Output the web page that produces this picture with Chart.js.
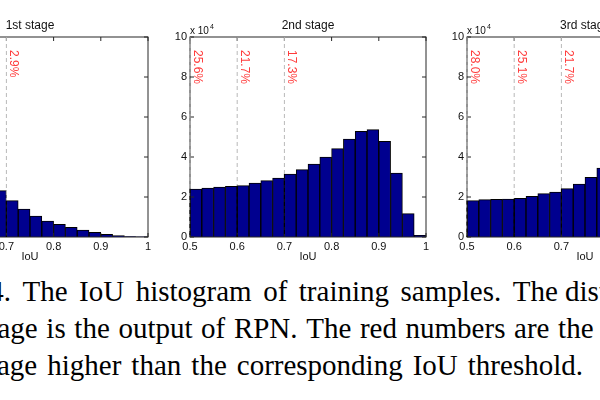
<!DOCTYPE html>
<html><head><meta charset="utf-8">
<script src="https://cdn.jsdelivr.net/npm/chart.js@4.4.1/dist/chart.umd.min.js"></script>
<style>
html,body{margin:0;padding:0;background:#fff;}
#wrap{position:absolute;left:0;top:0;width:600px;height:400px;overflow:hidden;background:#fff;}
#wrap canvas{position:absolute;top:0;}
.cap{position:absolute;left:0;white-space:pre;font-family:"Liberation Serif","Times New Roman",serif;font-size:29px;line-height:37px;color:#000;font-kerning:none;}
</style></head><body>
<div id="wrap">
<canvas id="c1" width="300" height="270"></canvas>
<canvas id="c2" width="300" height="270"></canvas>
<canvas id="c3" width="300" height="270"></canvas>
<div class="cap" id="l1"></div>
<div class="cap" id="l2"></div>
<div class="cap" id="l3"></div>
</div>
<script>
// ---- data ----
const binCenters = [0.5125,0.5375,0.5625,0.5875,0.6125,0.6375,0.6625,0.6875,0.7125,0.7375,
                    0.7625,0.7875,0.8125,0.8375,0.8625,0.8875,0.9125,0.9375,0.9625,0.9875];
const stage1Counts = [7.2,6.3,5.4,4.5,3.5,3.0,2.65,2.32,1.82,1.40,1.05,0.80,0.63,0.48,0.35,0.23,0.13,0.07,0.02,0.01];
const stage2Counts = [2.40,2.45,2.50,2.53,2.57,2.70,2.82,2.95,3.15,3.37,3.65,4.00,4.42,4.90,5.28,5.37,4.78,3.20,1.17,0.08];
const stage3Counts = [1.82,1.87,1.88,1.90,1.93,2.03,2.17,2.25,2.42,2.65,2.98,3.45,4.0,4.6,5.3,6.0,6.6,7.0,6.5,3.0];
const stageTitles = ['1st stage','2nd stage','3rd stage'];
const thresholds = [0.5,0.6,0.7];
const stage1Pct = ['16.7%','7.4%','2.9%'];
const stage2Pct = ['25.6%','21.7%','17.3%'];
const stage3Pct = ['28.0%','25.1%','21.7%'];
const xTicks = [0.5,0.6,0.7,0.8,0.9,1];
const xTickLabels = ['0.5','0.6','0.7','0.8','0.9','1'];
const yTicks = [0,2,4,6,8,10];
const yTickLabels = ['0','2','4','6','8','10'];
const xAxisTitle = 'IoU';
const yScaleBase = 'x 10';
const yScaleExp = '4';
const captionLines = [
  {prefix:'Figure 4. ', body:'The IoU histogram of training samples. ', tail:'The distribution at the 1st'},
  {prefix:'', body:'age is the output of RPN. The red numbers are the', tail:''},
  {prefix:'', body:'age higher than the corresponding IoU threshold.', tail:''}
];

// ---- layout ----
const plotLefts = [-88, 190, 467.3];
const AXW = 40, PLOTW = 236, CW = 300;
const FONT = '"Liberation Sans", Arial, sans-serif';

const decor = {
  id: 'decor',
  afterDatasetsDraw(chart, args, opts) {
    const {ctx, chartArea: a, scales: {x, y}} = chart;
    ctx.save();
    ctx.setLineDash([]);
    ctx.strokeStyle = '#262626';
    ctx.lineWidth = 1;
    ctx.strokeRect(a.left, a.top, a.right - a.left, a.bottom - a.top);
    ctx.beginPath();
    yTicks.forEach(v => {
      const py = y.getPixelForValue(v);
      ctx.moveTo(a.left, py); ctx.lineTo(a.left + 4, py);
      ctx.moveTo(a.right, py); ctx.lineTo(a.right - 4, py);
    });
    xTicks.forEach(v => {
      const px = x.getPixelForValue(v);
      ctx.moveTo(px, a.top); ctx.lineTo(px, a.top + 4);
      ctx.moveTo(px, a.bottom); ctx.lineTo(px, a.bottom - 4);
    });
    ctx.stroke();
    thresholds.forEach((t, k) => {
      const px = x.getPixelForValue(t);
      const idx = binCenters.findIndex(c => c > t);
      const barTop = y.getPixelForValue(opts.counts[idx]);
      ctx.setLineDash([4, 3]);
      ctx.lineWidth = 1;
      ctx.strokeStyle = '#b9b9b9';
      ctx.beginPath(); ctx.moveTo(px, a.top); ctx.lineTo(px, barTop); ctx.stroke();
      ctx.strokeStyle = '#000';
      ctx.beginPath(); ctx.moveTo(px, barTop); ctx.lineTo(px, a.bottom); ctx.stroke();
      ctx.save();
      ctx.translate(px + 3.5, a.top + 13);
      ctx.rotate(Math.PI / 2);
      ctx.fillStyle = '#ff3b3b';
      ctx.font = '12px ' + FONT;
      ctx.textAlign = 'left';
      ctx.textBaseline = 'alphabetic';
      ctx.fillText(opts.pcts[k], 0, 0);
      ctx.restore();
    });
    ctx.setLineDash([]);
    ctx.fillStyle = '#111';
    ctx.textAlign = 'left';
    ctx.textBaseline = 'alphabetic';
    ctx.font = '10px ' + FONT;
    ctx.fillText(yScaleBase, a.left, a.top - 3);
    const w = ctx.measureText(yScaleBase).width;
    ctx.font = '7px ' + FONT;
    ctx.fillText(yScaleExp, a.left + w + 1, a.top - 8.5);
    ctx.restore();
  }
};

function makeChart(id, i, counts, pcts) {
  const cv = document.getElementById(id);
  cv.style.left = (plotLefts[i] - AXW) + 'px';
  return new Chart(cv, {
    type: 'bar',
    data: {
      datasets: [{
        data: binCenters.map((c, j) => ({x: c, y: counts[j]})),
        backgroundColor: '#00008f',
        borderColor: '#000',
        borderWidth: 1,
        barPercentage: 1,
        categoryPercentage: 1
      }]
    },
    options: {
      responsive: false,
      animation: false,
      devicePixelRatio: 1,
      layout: {padding: {left: 0, right: CW - AXW - PLOTW, top: 18.6, bottom: 0}},
      plugins: {
        legend: {display: false},
        tooltip: {enabled: false},
        title: {display: true, text: stageTitles[i], fullSize: false, color: '#111',
                font: {family: FONT, size: 12, weight: 'normal', lineHeight: 1.2},
                padding: {top: 0, bottom: 4}},
        decor: {counts: counts, pcts: pcts}
      },
      scales: {
        x: {
          type: 'linear', min: 0.5, max: 1, offset: false,
          grid: {display: false, drawTicks: false, offset: false},
          border: {display: false},
          afterBuildTicks: s => { s.ticks = xTicks.map(v => ({value: v})); },
          ticks: {padding: 3, autoSkip: false, maxRotation: 0, color: '#111',
                  font: {family: FONT, size: 11},
                  callback: v => xTickLabels[xTicks.indexOf(v)]},
          title: {display: true, text: xAxisTitle, color: '#111',
                  font: {family: FONT, size: 11, lineHeight: 1}, padding: {top: 0, bottom: 8}},
          afterFit: s => { s.height = 33; }
        },
        y: {
          min: 0, max: 10,
          grid: {display: false, drawTicks: false},
          border: {display: false},
          afterBuildTicks: s => { s.ticks = yTicks.map(v => ({value: v})); },
          ticks: {padding: 3, color: '#111', font: {family: FONT, size: 11},
                  callback: v => yTickLabels[yTicks.indexOf(v)]},
          afterFit: s => { s.width = AXW; }
        }
      }
    },
    plugins: [decor]
  });
}

makeChart('c1', 0, stage1Counts, stage1Pct);
makeChart('c2', 1, stage2Counts, stage2Pct);
makeChart('c3', 2, stage3Counts, stage3Pct);

// ---- caption ----
const capStarts = [22.5, -2.5, -3.0];
const capWidths = [490.2, 596.0, 586.0];
const capBaselines = [301.5, 338.5, 375.5];
const spans = [];
captionLines.forEach((ln, k) => {
  const el = document.getElementById('l' + (k + 1));
  const sp = document.createElement('span'); sp.textContent = ln.prefix;
  const sb = document.createElement('span'); sb.textContent = ln.body;
  const st = document.createElement('span'); st.textContent = ln.tail;
  st.style.wordSpacing = '0px';
  el.append(sp, sb, st);
  el.style.top = (capBaselines[k] - 28.3) + 'px';
  spans.push({el, sb, spaces: (ln.body.match(/ /g) || []).length, ws: 0, left: capStarts[k]});
});
function fitCaption() {
  const wl = document.getElementById('wrap').getBoundingClientRect().left;
  spans.forEach((s, k) => {
    for (let it = 0; it < 3; it++) {
      const r = s.sb.getBoundingClientRect();
      if (s.spaces) s.ws += (capWidths[k] - r.width) / s.spaces;
      s.el.style.wordSpacing = s.ws + 'px';
      const r2 = s.sb.getBoundingClientRect();
      s.left += capStarts[k] - (r2.left - wl);
      s.el.style.left = s.left + 'px';
    }
  });
}
fitCaption();
if (document.fonts && document.fonts.ready) document.fonts.ready.then(fitCaption);
</script>
</body></html>
